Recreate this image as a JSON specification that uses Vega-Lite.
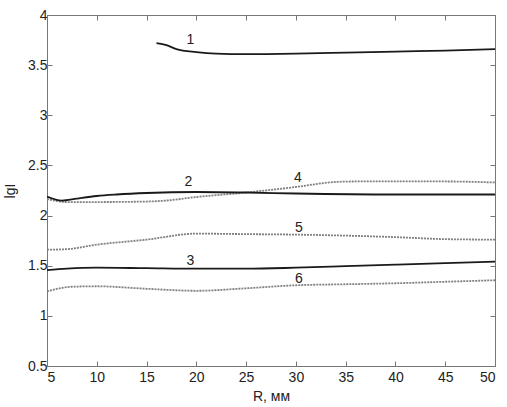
{
  "$schema": "https://vega.github.io/schema/vega-lite/v6.json",
  "width": 448,
  "height": 351,
  "autosize": {"type": "none"},
  "padding": {"left": 47, "top": 15, "right": 12, "bottom": 41},
  "background": "white",
  "config": {
    "view": {"stroke": "#777", "strokeWidth": 1},
    "axis": {"labelFont": "Liberation Sans", "titleFont": "Liberation Sans", "labelFontSize": 14, "titleFontSize": 14, "titleFontWeight": "normal", "labelColor": "#222", "titleColor": "#222", "grid": false, "domainColor": "#777", "tickColor": "#777", "tickSize": -5, "labelPadding": 4}
  },
  "datasets": {
    "curves": [
      {"s": "1", "t": "solid", "R": 16, "v": 3.72},
      {"s": "1", "t": "solid", "R": 17, "v": 3.70},
      {"s": "1", "t": "solid", "R": 18, "v": 3.66},
      {"s": "1", "t": "solid", "R": 20, "v": 3.63},
      {"s": "1", "t": "solid", "R": 22, "v": 3.615},
      {"s": "1", "t": "solid", "R": 25, "v": 3.61},
      {"s": "1", "t": "solid", "R": 30, "v": 3.615},
      {"s": "1", "t": "solid", "R": 35, "v": 3.625},
      {"s": "1", "t": "solid", "R": 40, "v": 3.635},
      {"s": "1", "t": "solid", "R": 45, "v": 3.645},
      {"s": "1", "t": "solid", "R": 50, "v": 3.66},
      {"s": "2", "t": "solid", "R": 5, "v": 2.19},
      {"s": "2", "t": "solid", "R": 6.5, "v": 2.15},
      {"s": "2", "t": "solid", "R": 8, "v": 2.17},
      {"s": "2", "t": "solid", "R": 10, "v": 2.195},
      {"s": "2", "t": "solid", "R": 12, "v": 2.21},
      {"s": "2", "t": "solid", "R": 15, "v": 2.225},
      {"s": "2", "t": "solid", "R": 20, "v": 2.235},
      {"s": "2", "t": "solid", "R": 25, "v": 2.23},
      {"s": "2", "t": "solid", "R": 30, "v": 2.22},
      {"s": "2", "t": "solid", "R": 40, "v": 2.21},
      {"s": "2", "t": "solid", "R": 50, "v": 2.21},
      {"s": "3", "t": "solid", "R": 5, "v": 1.455},
      {"s": "3", "t": "solid", "R": 7, "v": 1.47},
      {"s": "3", "t": "solid", "R": 10, "v": 1.48},
      {"s": "3", "t": "solid", "R": 15, "v": 1.475},
      {"s": "3", "t": "solid", "R": 20, "v": 1.47},
      {"s": "3", "t": "solid", "R": 25, "v": 1.47},
      {"s": "3", "t": "solid", "R": 30, "v": 1.48},
      {"s": "3", "t": "solid", "R": 35, "v": 1.495},
      {"s": "3", "t": "solid", "R": 40, "v": 1.51},
      {"s": "3", "t": "solid", "R": 45, "v": 1.525},
      {"s": "3", "t": "solid", "R": 50, "v": 1.54},
      {"s": "4", "t": "dot", "R": 5, "v": 2.165},
      {"s": "4", "t": "dot", "R": 7, "v": 2.135},
      {"s": "4", "t": "dot", "R": 10, "v": 2.135},
      {"s": "4", "t": "dot", "R": 15, "v": 2.14},
      {"s": "4", "t": "dot", "R": 17, "v": 2.15},
      {"s": "4", "t": "dot", "R": 20, "v": 2.185},
      {"s": "4", "t": "dot", "R": 25, "v": 2.23},
      {"s": "4", "t": "dot", "R": 30, "v": 2.285},
      {"s": "4", "t": "dot", "R": 34, "v": 2.335},
      {"s": "4", "t": "dot", "R": 36, "v": 2.34},
      {"s": "4", "t": "dot", "R": 40, "v": 2.34},
      {"s": "4", "t": "dot", "R": 45, "v": 2.34},
      {"s": "4", "t": "dot", "R": 50, "v": 2.33},
      {"s": "5", "t": "dot", "R": 5, "v": 1.66},
      {"s": "5", "t": "dot", "R": 7, "v": 1.665},
      {"s": "5", "t": "dot", "R": 10, "v": 1.71},
      {"s": "5", "t": "dot", "R": 15, "v": 1.76},
      {"s": "5", "t": "dot", "R": 20, "v": 1.82},
      {"s": "5", "t": "dot", "R": 25, "v": 1.815},
      {"s": "5", "t": "dot", "R": 30, "v": 1.81},
      {"s": "5", "t": "dot", "R": 35, "v": 1.80},
      {"s": "5", "t": "dot", "R": 40, "v": 1.785},
      {"s": "5", "t": "dot", "R": 45, "v": 1.765},
      {"s": "5", "t": "dot", "R": 50, "v": 1.76},
      {"s": "6", "t": "dot", "R": 5, "v": 1.245},
      {"s": "6", "t": "dot", "R": 7.5, "v": 1.29},
      {"s": "6", "t": "dot", "R": 10, "v": 1.295},
      {"s": "6", "t": "dot", "R": 15, "v": 1.27},
      {"s": "6", "t": "dot", "R": 20, "v": 1.25},
      {"s": "6", "t": "dot", "R": 25, "v": 1.275},
      {"s": "6", "t": "dot", "R": 30, "v": 1.305},
      {"s": "6", "t": "dot", "R": 35, "v": 1.315},
      {"s": "6", "t": "dot", "R": 40, "v": 1.325},
      {"s": "6", "t": "dot", "R": 45, "v": 1.34},
      {"s": "6", "t": "dot", "R": 50, "v": 1.355}
    ],
    "labels": [
      {"lab": "1", "R": 19.4, "v": 3.75},
      {"lab": "2", "R": 19.2, "v": 2.33},
      {"lab": "3", "R": 19.4, "v": 1.55},
      {"lab": "4", "R": 30.2, "v": 2.37},
      {"lab": "5", "R": 30.3, "v": 1.88},
      {"lab": "6", "R": 30.3, "v": 1.37}
    ]
  },
  "resolve": {"axis": {"x": "independent", "y": "independent"}},
  "layer": [
    {
      "data": {"name": "curves"},
      "transform": [{"filter": "datum.t === 'dot'"}],
      "mark": {"type": "line", "interpolate": "monotone", "color": "#808080", "strokeWidth": 1.8, "strokeDash": [2, 1], "clip": true},
      "encoding": {
        "x": {"field": "R", "type": "quantitative", "scale": {"domain": [5, 50], "nice": false}, "axis": {"title": "R, мм", "values": [5,10,15,20,25,30,35,40,45,50], "labelPadding": 9, "titlePadding": 5}},
        "y": {"field": "v", "type": "quantitative", "scale": {"domain": [0.5, 4], "nice": false, "zero": false}, "axis": {"title": "lgI", "values": [0.5,1,1.5,2,2.5,3,3.5,4], "labelExpr": "format(datum.value, '~g')", "labelPadding": 5, "titlePadding": 10}},
        "detail": {"field": "s"}
      }
    },
    {
      "data": {"name": "curves"},
      "transform": [{"filter": "datum.t === 'solid'"}],
      "mark": {"type": "line", "interpolate": "monotone", "color": "#1a1a1a", "strokeWidth": 1.8, "clip": true},
      "encoding": {
        "x": {"field": "R", "type": "quantitative", "axis": {"orient": "top", "labels": false, "title": null, "domain": false, "values": [5,10,15,20,25,30,35,40,45,50]}},
        "y": {"field": "v", "type": "quantitative", "axis": {"orient": "right", "labels": false, "title": null, "domain": false, "values": [0.5,1,1.5,2,2.5,3,3.5,4]}},
        "detail": {"field": "s"}
      }
    },
    {
      "data": {"name": "labels"},
      "mark": {"type": "text", "font": "Liberation Sans", "fontSize": 14, "color": "#222", "baseline": "middle", "align": "center"},
      "encoding": {
        "x": {"field": "R", "type": "quantitative", "axis": null},
        "y": {"field": "v", "type": "quantitative", "axis": null},
        "text": {"field": "lab"}
      }
    }
  ]
}
